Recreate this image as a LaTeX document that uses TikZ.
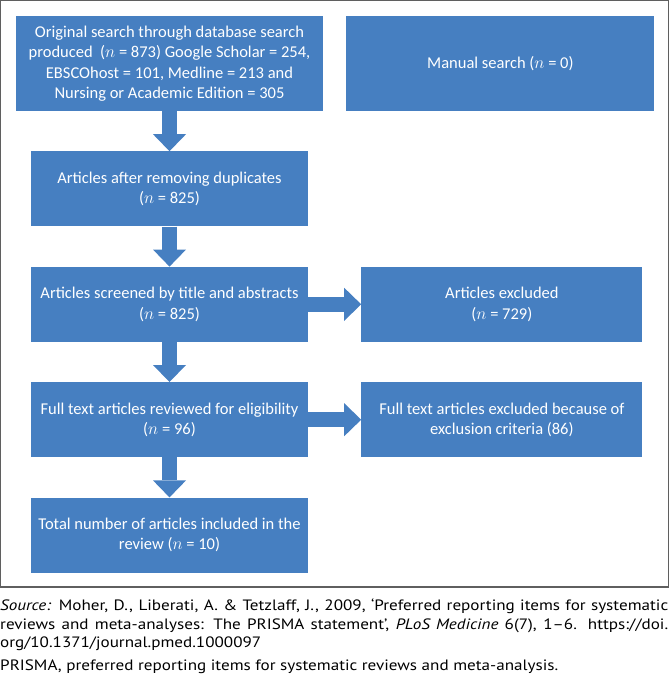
\documentclass[tikz,border=0pt]{standalone}
\usepackage{fontspec}
\setmainfont{Carlito}
\newfontfamily\capfont[FakeStretch=1.14]{PT Sans}
\usetikzlibrary{positioning, arrows.meta}
\definecolor{boxblue}{RGB}{70,127,193}
\definecolor{framegray}{RGB}{95,95,95}

\begin{document}
\begin{tikzpicture}[x=1pt, y=1pt, node distance=40pt]
  \tikzset{
    stage/.style={
      fill=boxblue, text=white, align=center, inner sep=0pt,
      font=\fontsize{16.5}{20.5}\selectfont
    },
    mainstage/.style={stage, minimum width=277pt, minimum height=75pt},
    sidestage/.style={stage, minimum width=281pt, minimum height=75pt},
    flow/.style={
      draw=boxblue, line width=15pt,
      -{Triangle[length=17pt, width=33pt, line width=0pt]}
    }
  }
  \useasboundingbox (0,0) rectangle (670,-681);
  \draw[framegray, line width=1.3pt] (0.7,-0.7) rectangle (668.5,-587);

  % main column
  \node[stage, minimum width=307pt, minimum height=95pt] (s1) at (169.5,-63.5)
    {Original search through database search\\
     produced~ ($n$ = 873) Google Scholar = 254,\\
     EBSCOhost = 101, Medline = 213 and\\
     Nursing or Academic Edition = 305};
  \node[mainstage, below=of s1] (s2)
    {Articles after removing duplicates\\ ($n$ = 825)};
  \node[mainstage, below=of s2] (s3)
    {Articles screened by title and abstracts\\ ($n$ = 825)};
  \node[mainstage, below=of s3] (s4)
    {Full text articles reviewed for eligibility\\ ($n$ = 96)};
  \node[mainstage, below=of s4] (s5)
    {Total number of articles included in the\\ review ($n$ = 10)};

  % side column
  \node[stage, minimum width=308pt, minimum height=95pt, right=23pt of s1] (m1)
    {Manual search ($n$ = 0)};
  \node[sidestage, right=53pt of s3] (x1)
    {Articles excluded\\ ($n$ = 729)};
  \node[sidestage, right=53pt of s4] (x2)
    {Full text articles excluded because of\\ exclusion criteria (86)};

  % arrows
  \draw[flow] (s1) -- (s2);
  \draw[flow] (s2) -- (s3);
  \draw[flow] (s3) -- (s4);
  \draw[flow] (s4) -- (s5);
  \draw[flow] (s3) -- (x1);
  \draw[flow] (s4) -- (x2);

  % caption
  \node[anchor=north west, text width=668pt, align=justify, inner sep=0pt,
        font=\capfont\fontsize{15}{18.5}\selectfont] (src) at (0,-599)
    {\noindent\textit{Source:} Moher, D., Liberati, A. \& Tetzlaff, J., 2009, ‘Preferred reporting items for systematic\linebreak
     reviews and meta-analyses: The PRISMA statement’, \textit{PLoS Medicine} 6(7), 1–6. https://doi.\linebreak
     org/10.1371/journal.pmed.1000097\par\vspace{4pt}
     \noindent PRISMA, preferred reporting items for systematic reviews and meta-analysis.};
\end{tikzpicture}
\end{document}
